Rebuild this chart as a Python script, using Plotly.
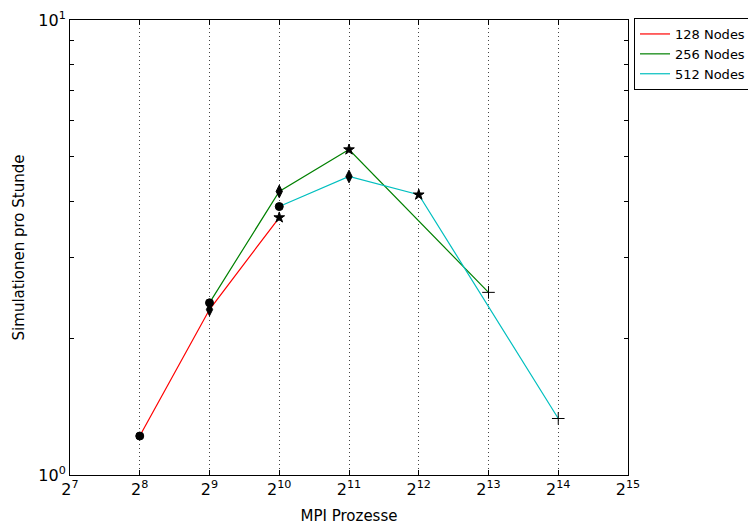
import plotly.graph_objects as go

# data
procs_128 = [256, 512, 1024]
vals_128 = [1.218, 2.31, 3.68]
procs_256 = [512, 1024, 2048, 8192]
vals_256 = [2.39, 4.20, 5.19, 2.52]
procs_512 = [1024, 2048, 4096, 16384]
vals_512 = [3.89, 4.53, 4.13, 1.331]

# markers: processes per node
circle_x = [256, 512, 1024]
circle_y = [1.218, 2.39, 3.89]
diamond_x = [512, 1024, 2048]
diamond_y = [2.31, 4.20, 4.53]
star_x = [1024, 2048, 4096]
star_y = [3.68, 5.19, 4.13]
plus_x = [8192, 16384]
plus_y = [2.52, 1.331]

series = [("128 Nodes", procs_128, vals_128, "#ff0000"),
          ("256 Nodes", procs_256, vals_256, "#008000"),
          ("512 Nodes", procs_512, vals_512, "#00bfbf")]

x_exps = list(range(7, 16))
x_tickvals = [2 ** e for e in x_exps]
x_ticktext = [f"2<sup>{e}</sup>" for e in x_exps]

fig = go.Figure()
for name, x, y, c in series:
    fig.add_trace(go.Scatter(x=x, y=y, mode="lines", name=name,
                             line=dict(color=c, width=1.2)))

for xs, ys, sym, size in [(circle_x, circle_y, "circle", 8),
                          (diamond_x, diamond_y, "diamond-tall", 9),
                          (star_x, star_y, "star", 8),
                          (plus_x, plus_y, "cross-thin", 9)]:
    fig.add_trace(go.Scatter(x=xs, y=ys, mode="markers", showlegend=False,
                             marker=dict(symbol=sym, size=size, color="black",
                                         line=dict(color="black", width=1))))

font = "DejaVu Sans"
fig.update_layout(
    width=748, height=527,
    margin=dict(l=70, r=120, t=20, b=52),
    paper_bgcolor="white", plot_bgcolor="white",
    font=dict(family=font, color="black", size=14),
    legend=dict(xref="container", yref="container",
                x=634 / 748, y=1 - 18 / 527, xanchor="left", yanchor="top",
                bordercolor="black", borderwidth=1,
                font=dict(family=font, size=13, color="black"),
                itemwidth=30, tracegroupgap=0),
    xaxis=dict(type="log", range=[7 * 0.30103, 15 * 0.30103],
               tickvals=x_tickvals, ticktext=x_ticktext, automargin=False,
               tickfont=dict(size=16), ticks="inside", ticklen=5,
               tickcolor="black", showline=True, linecolor="black",
               linewidth=1, mirror="ticks",
               showgrid=True, gridcolor="#444444", griddash="1px,3px", gridwidth=1,
               zeroline=False,
               title=dict(text="MPI Prozesse", font=dict(size=15), standoff=12)),
    yaxis=dict(type="log", range=[0, 1], automargin=False,
               tickvals=[1, 10], ticktext=["10<sup>0</sup>", "10<sup>1</sup>"],
               tickfont=dict(size=16), ticks="inside", ticklen=8,
               tickcolor="black", showline=True, linecolor="black",
               linewidth=1, mirror="ticks", showgrid=False, zeroline=False,
               minor=dict(ticks="inside", ticklen=4, tickcolor="black",
                          tickvals=[2, 3, 4, 5, 6, 7, 8, 9], showgrid=False),
               title=dict(text="Simulationen pro Stunde", font=dict(size=15),
                          standoff=10)),
)

fig.write_html("out.html")
